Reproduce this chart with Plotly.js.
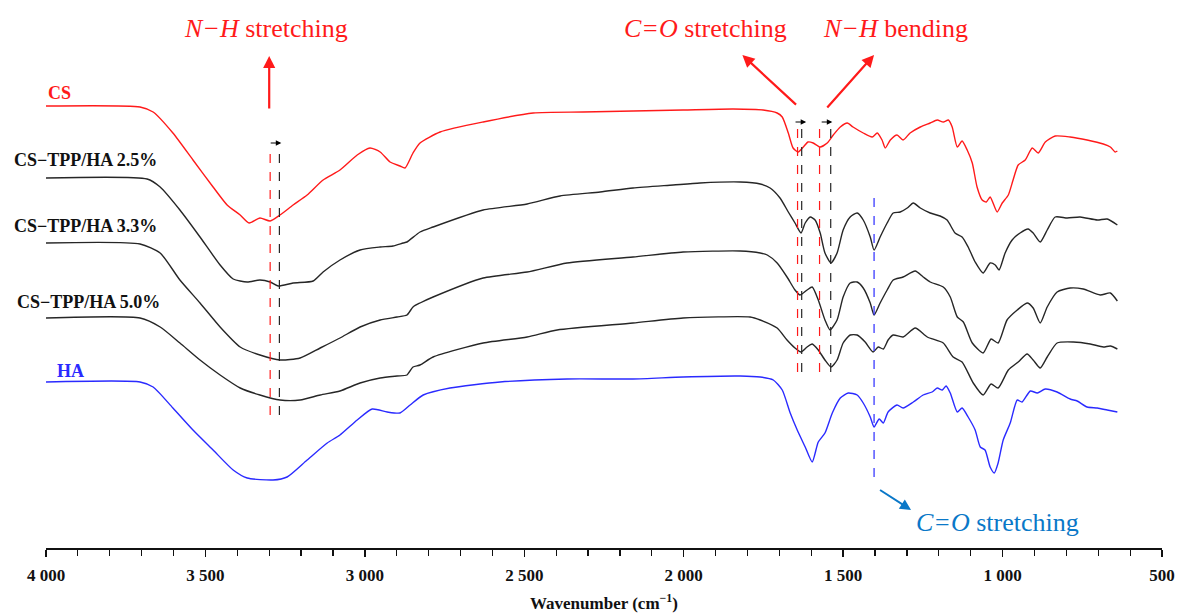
<!DOCTYPE html>
<html>
<head>
<meta charset="utf-8">
<script src="https://cdn.plot.ly/plotly-3.0.1.min.js"></script>
<style>
html,body{margin:0;padding:0;background:#fff;}
#chart{width:1181px;height:613px;}
</style>
</head>
<body>
<div id="chart"></div>
<script>
// Wavenumber (cm-1) and relative transmittance (offset, a.u.)
const wnCS = [4000,3705,3664,3602,3539,3476,3432,3391,3363,3329,3297,3266,3225,3181,3131,3078,3024,2984,2952,2921,2890,2874,2849,2827,2764,2629,2472,2316,2159,2002,1845,1751,1707,1691,1672,1657,1641,1625,1610,1594,1572,1550,1531,1509,1487,1469,1437,1409,1393,1378,1368,1352,1331,1312,1290,1258,1227,1205,1186,1170,1158,1142,1127,1111,1095,1080,1064,1051,1039,1017,1001,982,967,951,929,907,888,866,835,788,735,684,662,647,640];
const tCS = [442,441,436,415,388,361,343,333,325,330,327,333,343,353,368,378,393,400,396,386,382,380,395,405,416,426,435,436,437,438,439,438,435,431,415,400,396,401,406,405,401,405,413,421,425,421,415,411,415,408,400,408,413,408,415,421,425,428,426,428,421,401,407,398,385,361,348,346,351,336,345,353,368,383,388,400,395,406,412,411,408,404,401,396,397];

const wn25 = [4000,3683,3642,3580,3517,3454,3413,3369,3329,3297,3272,3225,3162,3131,3078,3015,2952,2912,2880,2868,2827,2786,2629,2491,2388,2262,2159,2033,1949,1823,1760,1729,1698,1672,1651,1632,1619,1603,1588,1572,1557,1538,1519,1500,1478,1456,1437,1415,1403,1384,1362,1343,1321,1299,1280,1258,1227,1196,1174,1149,1127,1108,1086,1061,1039,1023,1011,992,970,945,920,904,882,860,835,797,757,703,672,640];
const t25 = [370,369,361,338,311,283,269,266,268,266,262,265,267,276,288,298,301,302,305,306,316,321,338,344,352,356,360,363,365,366,364,360,350,336,325,315,325,331,328,315,295,285,295,318,331,335,328,311,298,311,325,335,336,340,345,340,335,332,328,315,311,301,286,275,285,283,278,295,308,315,319,315,306,318,331,330,331,328,329,323];

const wn33 = [4000,3705,3642,3580,3517,3454,3391,3329,3266,3203,3140,3078,3015,2952,2899,2868,2849,2827,2786,2629,2491,2366,2159,2002,1823,1760,1738,1707,1676,1651,1635,1613,1597,1578,1557,1541,1519,1500,1478,1456,1437,1415,1403,1384,1362,1343,1312,1274,1249,1227,1186,1164,1142,1123,1095,1061,1036,1014,986,954,923,904,882,860,829,788,747,694,662,640];
const t33 = [305,304,295,268,245,221,201,193,188,190,200,210,221,228,231,233,241,245,251,270,276,285,291,296,297,295,293,285,271,258,253,258,261,248,228,218,228,251,265,266,260,245,233,245,258,268,271,277,271,266,261,251,231,226,205,195,209,205,228,238,245,240,225,241,256,260,259,253,255,247];

const wn50 = [4000,3705,3642,3580,3517,3454,3391,3329,3266,3203,3140,3078,3015,2952,2899,2868,2849,2827,2786,2629,2491,2397,2159,2002,1792,1760,1707,1676,1651,1632,1613,1597,1578,1557,1538,1519,1500,1478,1456,1431,1406,1390,1374,1359,1343,1312,1274,1236,1186,1155,1127,1092,1061,1036,1014,982,951,923,904,882,860,829,778,725,684,662,640];
const t50 = [230,230,221,205,188,173,160,153,148,148,153,157,165,170,172,173,181,183,191,205,211,218,225,230,231,228,220,208,200,196,201,204,198,188,181,188,205,213,213,206,196,201,199,208,213,211,220,211,205,191,186,165,153,164,160,178,186,194,188,180,191,205,206,204,201,202,199];

const wnHA = [4000,3705,3664,3602,3539,3476,3413,3369,3288,3244,3181,3118,3078,3024,2977,2930,2890,2858,2817,2733,2576,2366,2159,2002,1823,1760,1719,1691,1666,1644,1619,1597,1578,1557,1534,1509,1484,1456,1437,1415,1403,1387,1374,1359,1331,1312,1280,1249,1221,1205,1189,1177,1164,1142,1127,1108,1086,1070,1055,1039,1026,1014,998,976,954,939,913,891,866,829,788,766,735,703,672,640];
const tHA = [166,166,161,140,118,98,78,70,68,71,88,105,113,128,139,136,135,143,153,160,166,169,169,171,172,171,168,158,135,118,101,86,106,115,135,150,155,153,145,131,121,129,125,136,143,140,146,153,156,160,158,162,155,136,140,131,118,101,98,81,75,85,108,125,148,146,157,155,159,156,149,147,141,140,138,136];

const seriesNames = ["CS", "CS−TPP/HA 2.5%", "CS−TPP/HA 3.3%", "CS−TPP/HA 5.0%", "HA"];
const tickVals = [4000, 3500, 3000, 2500, 2000, 1500, 1000, 500];
const tickText = ["4 000", "3 500", "3 000", "2 500", "2 000", "1 500", "1 000", "500"];

const SERIF = '"Liberation Serif", "Times New Roman", Times, serif';
const RED = "#ff1a1a", BLUE = "#2a2aff", BLK = "#262626";

function tr(x, y, color, name) {
  return {x: x, y: y, type: "scatter", mode: "lines", name: name,
    line: {color: color, width: 1.4, shape: "spline", smoothing: 0.6},
    hoverinfo: "skip", showlegend: false};
}
const data = [
  tr(wnCS, tCS, RED, seriesNames[0]),
  tr(wn25, t25, BLK, seriesNames[1]),
  tr(wn33, t33, BLK, seriesNames[2]),
  tr(wn50, t50, BLK, seriesNames[3]),
  tr(wnHA, tHA, BLUE, seriesNames[4])
];

function vline(x, y0, y1, color) {
  return {type: "line", xref: "x", yref: "y", x0: x, x1: x, y0: y0, y1: y1,
    line: {color: color, width: 1.2, dash: "dash"}};
}
const shapes = [
  vline(3297, 133, 401, RED), vline(3268, 133, 401, BLK),
  vline(1643, 176, 423, RED), vline(1630, 176, 423, BLK),
  vline(1574, 176, 423, RED), vline(1539, 176, 423, BLK),
  vline(1403, 71, 355, BLUE)
];

function label(xp, y, text, color, size) {
  return {x: xp, y: y, xref: "paper", yref: "y", text: text, showarrow: false,
    xanchor: "left", yanchor: "middle",
    font: {family: SERIF, size: size, color: color, weight: "bold"}};
}
function note(x, y, text, color) {
  return {x: x, y: y, xref: "x", yref: "y", text: text, showarrow: false,
    xanchor: "center", yanchor: "middle",
    font: {family: SERIF, size: 26, color: color}};
}
function arrow(x, y, ax, ay, color, w, s) {
  return {x: x, y: y, ax: ax, ay: ay, xref: "x", yref: "y", axref: "x", ayref: "y",
    text: "", showarrow: true, arrowhead: 2, arrowsize: s, arrowwidth: w, arrowcolor: color,
    standoff: 0, startstandoff: 0};
}
const annotations = [
  label(0.0, 455, "<b>" + seriesNames[0] + "</b>", RED, 18),
  label(-0.0305, 388, "<b>" + seriesNames[1] + "</b>", "#111", 18),
  label(-0.0305, 322, "<b>" + seriesNames[2] + "</b>", "#111", 18),
  label(-0.0278, 246, "<b>" + seriesNames[3] + "</b>", "#111", 18),
  label(0.0081, 177, "<b>" + seriesNames[4] + "</b>", BLUE, 18),
  note(3310, 520, "<i>N−H</i> stretching", RED),
  note(1933, 520, "<i>C=O</i> stretching", RED),
  note(1337, 520, "<i>N−H</i> bending", RED),
  note(1017, 26, "<i>C=O</i> stretching", "#0a78c8"),
  arrow(3300, 492, 3300, 438, RED, 2.2, 1.1),
  arrow(1816, 493, 1643, 442, RED, 2.2, 1.1),
  arrow(1403, 493, 1554, 439, RED, 2.2, 1.1),
  arrow(1287, 38, 1389, 59, "#0a78c8", 2, 1.1),
  arrow(3262, 405, 3300, 405, "#000", 1.1, 1.0),
  arrow(1616, 426, 1654, 426, "#000", 1.1, 1.0),
  arrow(1534, 426, 1572, 426, "#000", 1.1, 1.0)
];

const layout = {
  width: 1181, height: 613,
  margin: {l: 46, r: 19, t: 0, b: 65},
  paper_bgcolor: "#fff", plot_bgcolor: "#fff",
  font: {family: SERIF, color: "#111"},
  xaxis: {
    range: [4000, 500], autorange: false,
    showgrid: false, zeroline: false,
    showline: true, linecolor: "#111", linewidth: 1.5,
    ticks: "outside", ticklen: 7, tickwidth: 1.3, tickcolor: "#111",
    tickvals: tickVals, ticktext: tickText, ticklabelstandoff: 4,
    tickfont: {family: SERIF, size: 17, color: "#111", weight: "bold"},
    minor: {dtick: 100, ticks: "outside", ticklen: 6, tickwidth: 1.2, tickcolor: "#111", showgrid: false},
    title: {text: "<b>Wavenumber (cm<sup>−1</sup>)</b>", font: {family: SERIF, size: 17, color: "#111"}, standoff: 14},
    automargin: false
  },
  yaxis: {range: [0, 548], autorange: false, visible: false, showgrid: false, zeroline: false},
  shapes: shapes,
  annotations: annotations,
  showlegend: false
};

Plotly.newPlot("chart", data, layout, {displayModeBar: false, staticPlot: true});
</script>
</body>
</html>
